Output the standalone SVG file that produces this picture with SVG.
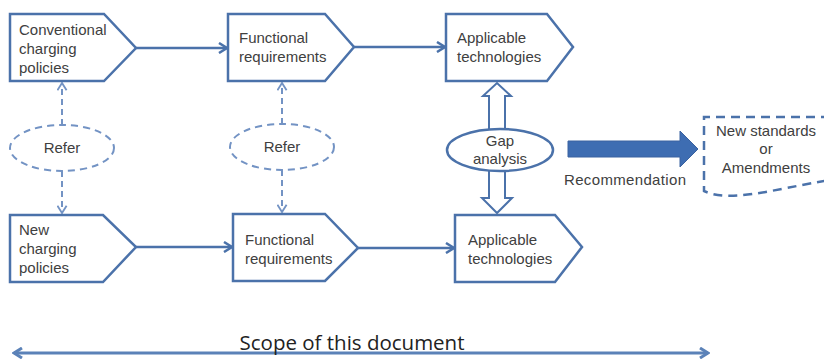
<svg xmlns="http://www.w3.org/2000/svg" width="824" height="360" viewBox="0 0 824 360">
<style>
.box{fill:#fff;stroke:#4b72aa;stroke-width:2.5;stroke-linejoin:miter}
.t{font-family:"Liberation Sans",Arial,sans-serif;font-size:15px;fill:#404040}
.c{text-anchor:middle}
.conn{stroke:#4b72aa;stroke-width:2.5;fill:none}
.dconn{stroke:#7393c4;stroke-width:2;fill:none;stroke-dasharray:6 4}
.dell{fill:#fff;stroke:#7393c4;stroke-width:2;stroke-dasharray:7 5}
.hollow{fill:#fff;stroke:#4b72aa;stroke-width:2}
</style>
<defs>
<marker id="ah" viewBox="0 0 12 12" refX="10" refY="6" markerWidth="12" markerHeight="12" markerUnits="userSpaceOnUse" orient="auto-start-reverse">
<path d="M2 1 L10 6 L2 11" fill="none" stroke="#4b72aa" stroke-width="2.5"/>
</marker>
<marker id="dh" viewBox="0 0 12 12" refX="10" refY="6" markerWidth="11" markerHeight="11" markerUnits="userSpaceOnUse" orient="auto-start-reverse">
<path d="M2 1 L10 6 L2 11" fill="none" stroke="#7393c4" stroke-width="2"/>
</marker>
<marker id="sh" viewBox="0 0 12 12" refX="10" refY="6" markerWidth="12" markerHeight="12" markerUnits="userSpaceOnUse" orient="auto-start-reverse">
<path d="M2 1 L10 6 L2 11" fill="none" stroke="#5b82b8" stroke-width="3"/>
</marker>
</defs>
<rect width="824" height="360" fill="#fff"/>
<g id="connectors">
<line class="conn" x1="136" y1="48" x2="227" y2="48" marker-end="url(#ah)"/>
<line class="conn" x1="354" y1="47" x2="445" y2="47" marker-end="url(#ah)"/>
<line class="conn" x1="136" y1="247" x2="232" y2="247" marker-end="url(#ah)"/>
<line class="conn" x1="358" y1="248" x2="454" y2="248" marker-end="url(#ah)"/>
<line class="dconn" x1="62" y1="125" x2="62" y2="83" marker-end="url(#dh)"/>
<line class="dconn" x1="62" y1="171" x2="62" y2="213" marker-end="url(#dh)"/>
<line class="dconn" x1="282" y1="124" x2="282" y2="83" marker-end="url(#dh)"/>
<line class="dconn" x1="282" y1="170" x2="282" y2="212" marker-end="url(#dh)"/>
<path class="hollow" d="M489 129 L489 96 L483 96 L497 83 L511 96 L505 96 L505 129"/>
<path class="hollow" d="M489 171 L489 198 L482 198 L497 213 L512 198 L505 198 L505 171"/>
<polygon points="568,141 680,141 680,131 698,149 680,167 680,157 568,157" fill="#3e6db2" stroke="#3a62a0" stroke-width="1"/>
<line x1="14" y1="353" x2="708" y2="353" stroke="#5b82b8" stroke-width="3" marker-start="url(#sh)" marker-end="url(#sh)"/>
</g>
<g id="conventional">
<polygon class="box" points="10,14 104,14 136,48 104,81 10,81"/>
<text class="t" x="19" y="35">Conventional</text>
<text class="t" x="19" y="54">charging</text>
<text class="t" x="19" y="73">policies</text>
</g>
<g id="func1">
<polygon class="box" points="228,14 325,14 354,47 325,81 228,81"/>
<text class="t" x="239" y="43">Functional</text>
<text class="t" x="239" y="62">requirements</text>
</g>
<g id="tech1">
<polygon class="box" points="446,14 547,14 573,47 547,81 446,81"/>
<text class="t" x="457" y="43">Applicable</text>
<text class="t" x="457" y="62">technologies</text>
</g>
<g id="newpol">
<polygon class="box" points="10,215 103,215 136,247 103,282 10,282"/>
<text class="t" x="19" y="235">New</text>
<text class="t" x="19" y="254">charging</text>
<text class="t" x="19" y="273">policies</text>
</g>
<g id="func2">
<polygon class="box" points="233,214 325,214 358,248 325,281 233,281"/>
<text class="t" x="245" y="245">Functional</text>
<text class="t" x="245" y="264">requirements</text>
</g>
<g id="tech2">
<polygon class="box" points="455,215 555,215 582,247 555,282 455,282"/>
<text class="t" x="468" y="245">Applicable</text>
<text class="t" x="468" y="264">technologies</text>
</g>
<g id="refer1">
<ellipse class="dell" cx="62" cy="148" rx="52" ry="23"/>
<text class="t c" x="62" y="153">Refer</text>
</g>
<g id="refer2">
<ellipse class="dell" cx="282" cy="147" rx="52" ry="23"/>
<text class="t c" x="282" y="152">Refer</text>
</g>
<g id="gap">
<ellipse cx="500" cy="150" rx="53" ry="21" fill="#fff" stroke="#4b72aa" stroke-width="2.5"/>
<text class="t c" x="500" y="146">Gap</text>
<text class="t c" x="500" y="164">analysis</text>
</g>
<g id="recommendation">
<text class="t c" x="625" y="185" textLength="122">Recommendation</text>
</g>
<g id="newstd">
<path d="M830 117 L704 117 L704 191 C730 203 770 190 830 180" fill="#fff" stroke="#4b72aa" stroke-width="2.5" stroke-dasharray="9 6"/>
<text class="t c" x="766" y="136">New standards</text>
<text class="t c" x="766" y="154">or</text>
<text class="t c" x="766" y="173">Amendments</text>
</g>
<g id="scope">
<text x="352" y="350" text-anchor="middle" font-family="'Open Sans',sans-serif" font-size="20" fill="#222" textLength="225" lengthAdjust="spacingAndGlyphs">Scope of this document</text>
</g>
</svg>
